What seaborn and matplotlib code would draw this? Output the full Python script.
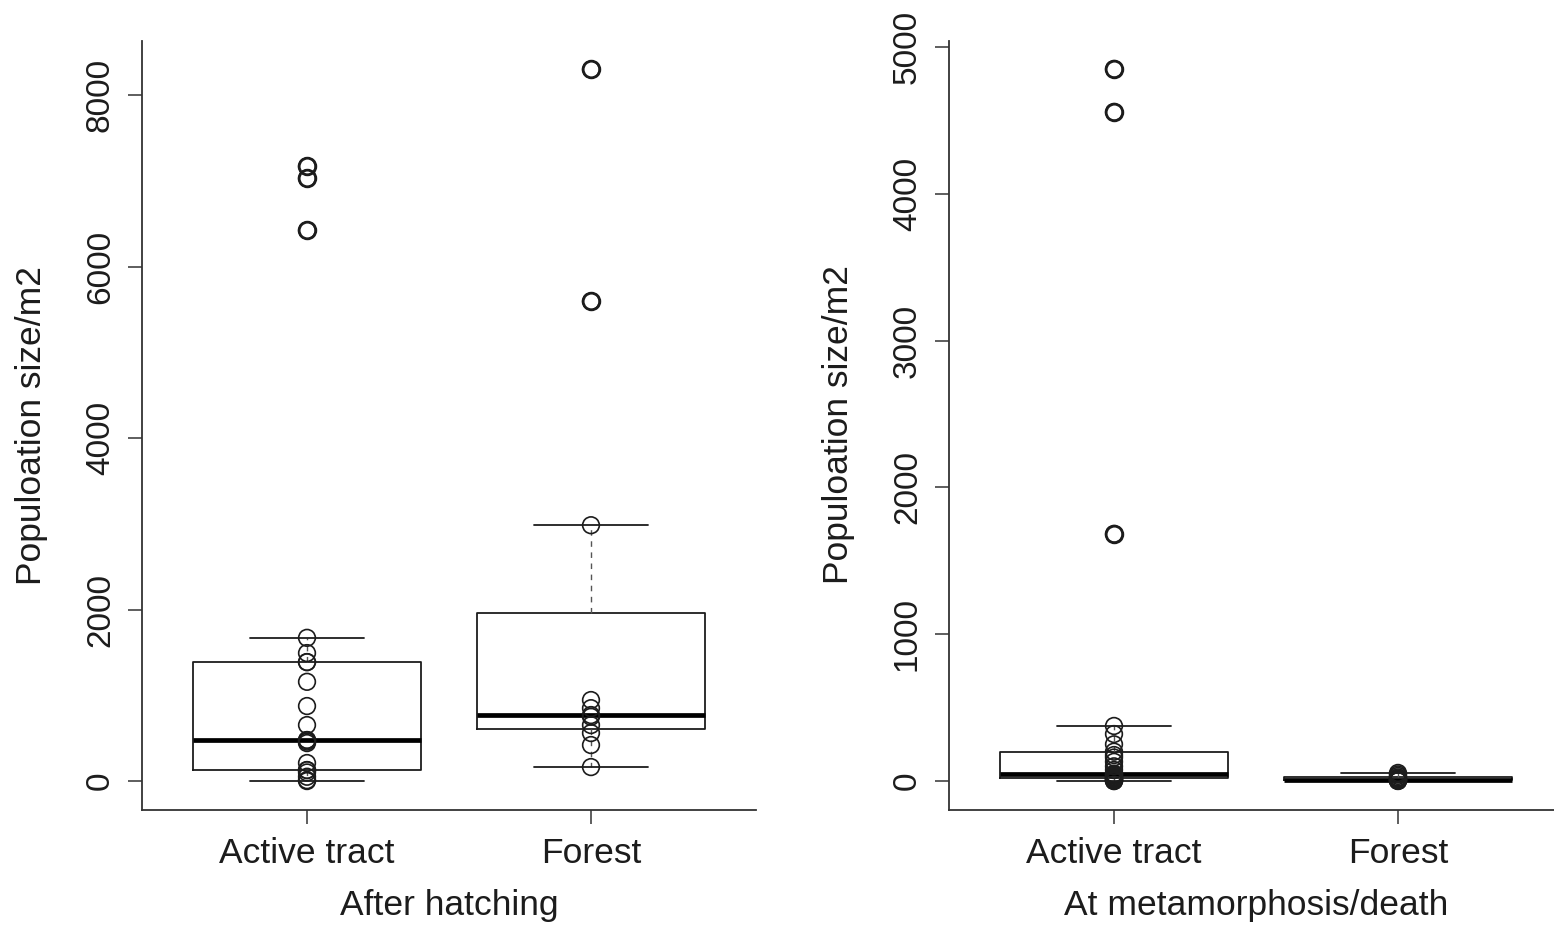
import numpy as np
import pandas as pd
import matplotlib
matplotlib.use("Agg")
import matplotlib.pyplot as plt
import seaborn as sns

# ---- data ----
groups = ["Active tract", "Forest"]
hatch_active = [0, 10, 50, 100, 128, 128, 210, 443, 460, 478, 478, 653, 875,
                1158, 1388, 1388, 1493, 1671, 6425, 7032, 7172]
hatch_forest = [163, 420, 560, 653, 750, 770, 850, 945, 2985, 5598, 8303]
meta_active = [0, 0, 3, 5, 8, 12, 18, 22, 28, 35, 41, 45, 50, 75, 100, 131,
               160, 177, 200, 250, 320, 375, 1683, 4557, 4850]
meta_forest = [0, 1, 3, 5, 7, 9, 10, 12, 18, 25, 35, 45, 55]

left_ticks = [0, 2000, 4000, 6000, 8000]
right_ticks = [0, 1000, 2000, 3000, 4000, 5000]
ylabel = "Populoation size/m2"
panel_titles = ["After hatching", "At metamorphosis/death"]


def long_df(a, f):
    return pd.DataFrame({
        "site": [groups[0]] * len(a) + [groups[1]] * len(f),
        "value": list(a) + list(f),
    })


sns.set_theme(style="white")
plt.rcParams["font.family"] = ["Liberation Sans", "DejaVu Sans"]

W, H = 1554, 925
fig = plt.figure(figsize=(W / 100, H / 100), dpi=100)
fig.patch.set_facecolor("white")

INK = "#1c1c1c"
FS = 25.5
FS_Y = 24


def panel(rect_px, df, ticks, title):
    x0, x1, ytop, ybot = rect_px
    ax = fig.add_axes([x0 / W, 1 - ybot / H, (x1 - x0) / W, (ybot - ytop) / H])
    sns.boxplot(data=df, x="site", y="value", order=groups, ax=ax,
                fill=False, color=INK, linecolor=INK, width=0.8, whis=1.5,
                linewidth=1.3,
                boxprops=dict(linewidth=1.3, color=INK),
                medianprops=dict(linewidth=3.4, color="black"),
                whiskerprops=dict(linewidth=1.0, linestyle=(0, (4, 4)), color="#555555"),
                capprops=dict(linewidth=1.3, color=INK),
                flierprops=dict(marker="o", markerfacecolor="none",
                                markeredgecolor=INK, markersize=12,
                                markeredgewidth=2.0))
    sns.stripplot(data=df, x="site", y="value", order=groups, ax=ax,
                  jitter=False, color=INK, size=12, linewidth=1.2,
                  edgecolor=INK)
    for coll in ax.collections:
        coll.set_facecolor("none")
        coll.set_edgecolor(INK)
    vmax = df["value"].max()
    ax.set_ylim(-0.04 * vmax, 1.04 * vmax)
    ax.set_xlim(-0.58, 1.58)
    ax.set_yticks(ticks)
    ax.set_yticklabels([str(t) for t in ticks])
    sns.despine(ax=ax)
    for s in ("left", "bottom"):
        ax.spines[s].set_color("#333333")
        ax.spines[s].set_linewidth(1.3)
    ax.tick_params(axis="both", which="both", direction="out", length=10,
                   width=1.1, color="#333333", labelcolor=INK,
                   left=True, bottom=True)
    ax.tick_params(axis="y", labelrotation=90, pad=9, labelsize=FS_Y)
    ax.tick_params(axis="x", pad=10, labelsize=FS)
    for lbl in ax.get_yticklabels():
        lbl.set_va("center")
    ax.set_xlabel(title, fontsize=FS, color=INK, va="bottom")
    ax.xaxis.set_label_coords(0.5, -0.1465)
    ax.set_ylabel(ylabel, fontsize=FS, color=INK, va="center")
    ax.yaxis.set_label_coords(-0.181, 0.5)
    ax.grid(False)
    return ax


panel((142.3, 755.7, 41, 809.5), long_df(hatch_active, hatch_forest),
      left_ticks, panel_titles[0])
panel((949.3, 1562.7, 40.5, 809.5), long_df(meta_active, meta_forest),
      right_ticks, panel_titles[1])

fig.savefig("out.png", dpi=100)
